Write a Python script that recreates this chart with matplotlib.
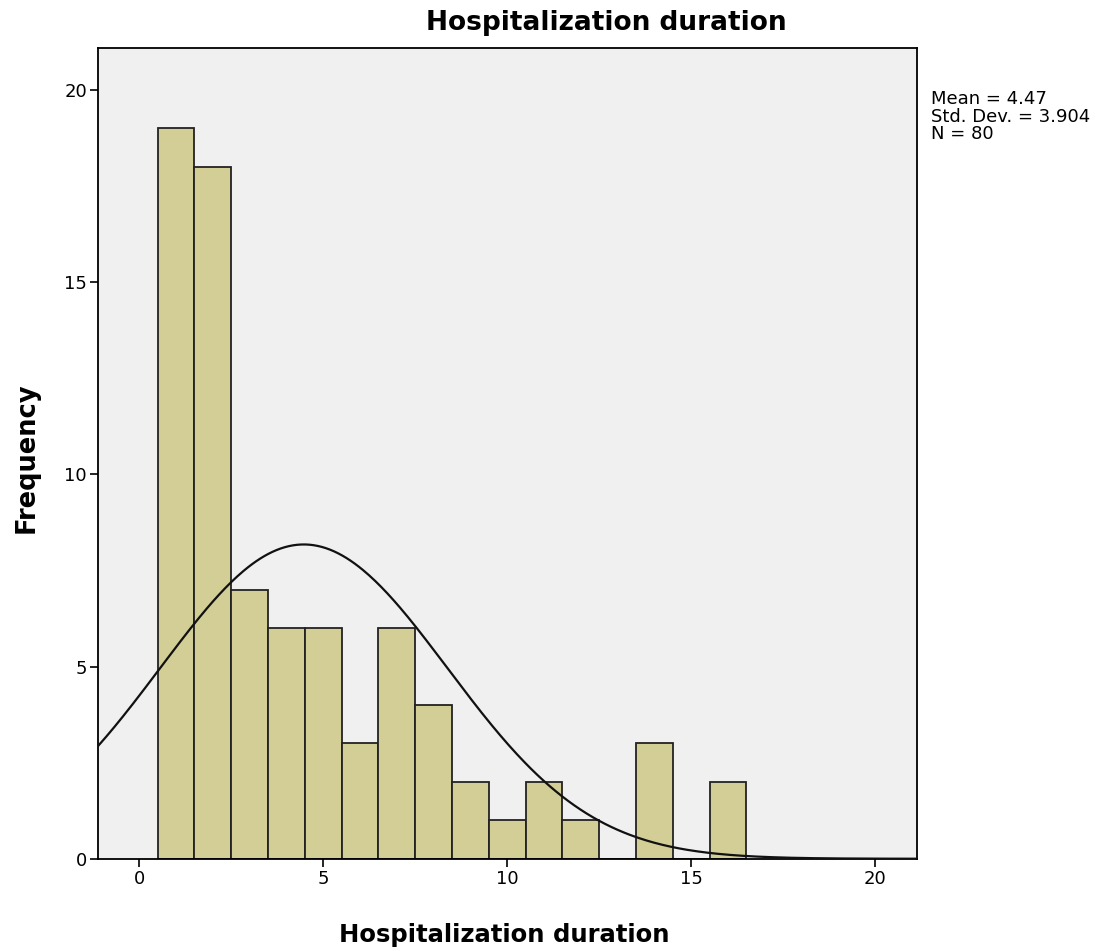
import numpy as np
import matplotlib.pyplot as plt

# hospitalization duration (days) and counts per 1-day bin
days = np.arange(1, 17)
counts = np.array([19, 18, 7, 6, 6, 3, 6, 4, 2, 1, 2, 1, 0, 3, 0, 2])
mean = 4.47
std = 3.904
n = 80

fig = plt.figure(figsize=(11.02, 9.51), dpi=100)
ax = fig.add_axes([0.089, 0.097, 0.743, 0.853])
ax.set_facecolor('#f0f0f0')

ax.bar(days, counts, width=1.0, color='#d2ce96', edgecolor='#222222', linewidth=1.3, zorder=2)

xmin, xmax = -1.12, 21.13
x = np.linspace(xmin, xmax, 400)
curve = n * 1.0 * np.exp(-0.5 * ((x - mean) / std) ** 2) / (std * np.sqrt(2 * np.pi))
ax.plot(x, curve, color='#111111', linewidth=1.6, zorder=3)

ax.set_xlim(xmin, xmax)
ax.set_ylim(0, 21.1)
ax.set_xticks([0, 5, 10, 15, 20])
ax.set_yticks([0, 5, 10, 15, 20])
ax.tick_params(direction='out', length=6, width=1.2, labelsize=13, pad=2)
for s in ax.spines.values():
    s.set_linewidth(1.3)

fig.text(0.5506, 0.976, 'Hospitalization duration', fontsize=19, fontweight='bold',
         ha='center', va='center')
fig.text(0.4578, 0.017, 'Hospitalization duration', fontsize=17.5, fontweight='bold',
         ha='center', va='center')
fig.text(0.024, 0.519, 'Frequency', fontsize=18.5, fontweight='bold', rotation=90,
         ha='center', va='center')

fig.text(0.845, 0.905, 'Mean = %.2f\nStd. Dev. = %.3f\nN = %d' % (mean, std, n),
         fontsize=13, va='top', ha='left', linespacing=0.95)

fig.savefig('out.png', dpi=100)
